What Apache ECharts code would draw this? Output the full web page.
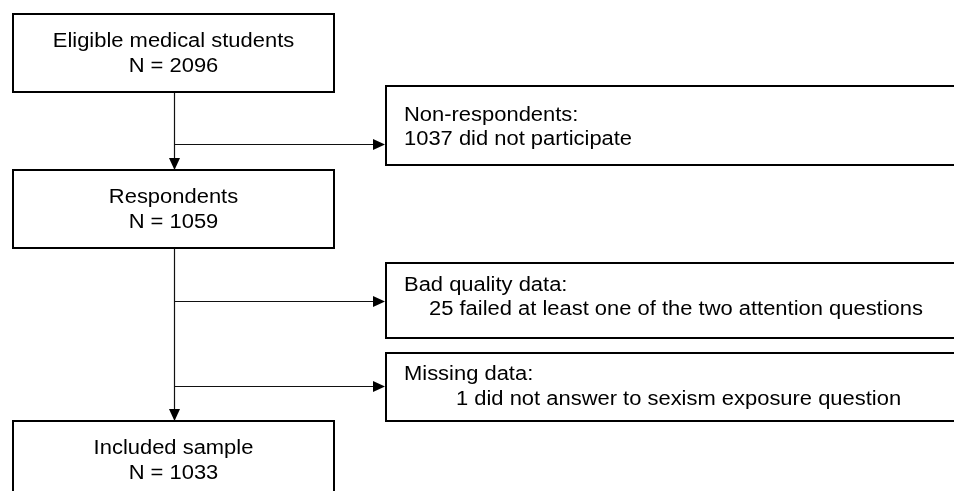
<!DOCTYPE html>
<html lang="en">
<head>
    <meta charset="UTF-8">
    <title>Flow chart</title>
    <script src="https://cdn.jsdelivr.net/npm/echarts@6/dist/echarts.min.js"></script>
    <style>
        html, body { margin: 0; padding: 0; background: #fff; }
    </style>
</head>
<body>
<div id="flow" style="width: 954px;height:491px;"></div>
<script>

    // chart content
    const mainLabels = ['Eligible medical students', 'Respondents', 'Included sample'];
    const mainCounts = [2096, 1059, 1033];
    const exclusionTitles = ['Non-respondents:', 'Bad quality data:', 'Missing data:'];
    const exclusionTexts = [
        '1037 did not participate',
        '25 failed at least one of the two attention questions',
        '1 did not answer to sexism exposure question'
    ];

    // layout (in canvas units, y grows downward)
    const mainBoxes = [[13, 14, 334, 92], [13, 170, 334, 248], [13, 421, 334, 499]];
    const sideBoxes = [[386, 86, 1000, 165], [386, 263, 1000, 338], [386, 353, 1000, 421]];
    const sideLineY = [[116, 140], [286, 310], [375, 400]];
    const sideIndent = [0, 25, 52];
    const arrowY = [144, 301, 386];
    const trunkX = 174.5;

    const FONT = 'Liberation Sans, Arial, sans-serif';
    const FONT_SIZE = 19.5;
    const STRETCH = 1.125;

    let chart = echarts.init(document.getElementById('flow'));

    function txt(api, x, y, text, align) {
        const p = api.coord([x, y]);
        return {
            type: 'text',
            x: p[0], y: p[1],
            scaleX: STRETCH,
            style: {
                x: 0, y: 0,
                text: text,
                align: align,
                verticalAlign: 'middle',
                font: FONT_SIZE + 'px ' + FONT,
                fill: '#000'
            }
        };
    }

    function box(api, b) {
        const p0 = api.coord([b[0], b[1]]);
        const p1 = api.coord([b[2], b[3]]);
        return {
            type: 'rect',
            shape: {x: p0[0], y: p0[1], width: p1[0] - p0[0], height: p1[1] - p0[1]},
            style: {fill: '#fff', stroke: '#000', lineWidth: 2}
        };
    }

    function arrow(api, from, to, dir) {
        const a = api.coord(from);
        const b = api.coord(to);
        const len = 12, half = 5.5;
        let base, tri;
        if (dir === 'down') {
            base = [b[0], b[1] - len];
            tri = [[b[0] - half, base[1]], [b[0] + half, base[1]], [b[0], b[1]]];
        } else {
            base = [b[0] - len, b[1]];
            tri = [[base[0], b[1] - half], [base[0], b[1] + half], [b[0], b[1]]];
        }
        return [{
            type: 'line',
            shape: {x1: a[0], y1: a[1], x2: base[0], y2: base[1]},
            style: {stroke: '#111', lineWidth: 1.2}
        }, {
            type: 'polygon',
            shape: {points: tri},
            style: {fill: '#000'}
        }];
    }

    chart.setOption({
        animation: false,
        grid: {left: 0, right: 0, top: 0, bottom: 0},
        xAxis: {type: 'value', min: 0, max: 954, show: false},
        yAxis: {type: 'value', min: 0, max: 491, inverse: true, show: false},
        series: [{
            type: 'custom',
            name: 'flow',
            silent: true,
            data: [0, 1],
            renderItem: function (params, api) {
                const i = params.dataIndex;
                const top = mainBoxes[i], next = mainBoxes[i + 1];
                let children = arrow(api, [trunkX, top[3]], [trunkX, next[1]], 'down');
                arrowY.forEach((y, k) => {
                    if ((i === 0 && k === 0) || (i === 1 && k > 0)) {
                        children = children.concat(arrow(api, [trunkX, y + 0.5], [sideBoxes[k][0] - 1, y + 0.5], 'right'));
                    }
                });
                return {type: 'group', children: children};
            }
        }, {
            type: 'custom',
            name: 'steps',
            silent: true,
            data: mainLabels.map((name, i) => ({name: name, value: mainCounts[i]})),
            renderItem: function (params, api) {
                const i = params.dataIndex;
                const b = mainBoxes[i];
                const cx = (b[0] + b[2]) / 2;
                return {
                    type: 'group',
                    children: [
                        box(api, b),
                        txt(api, cx, b[1] + 28, mainLabels[i], 'center'),
                        txt(api, cx, b[1] + 53, 'N = ' + mainCounts[i], 'center')
                    ]
                };
            }
        }, {
            type: 'custom',
            name: 'exclusions',
            silent: true,
            data: exclusionTitles.map((name, i) => ({name: name, value: i})),
            renderItem: function (params, api) {
                const i = params.dataIndex;
                const b = sideBoxes[i];
                return {
                    type: 'group',
                    children: [
                        box(api, b),
                        txt(api, b[0] + 18, sideLineY[i][0], exclusionTitles[i], 'left'),
                        txt(api, b[0] + 18 + sideIndent[i], sideLineY[i][1], exclusionTexts[i], 'left')
                    ]
                };
            }
        }]
    });
</script>
</body>
</html>
